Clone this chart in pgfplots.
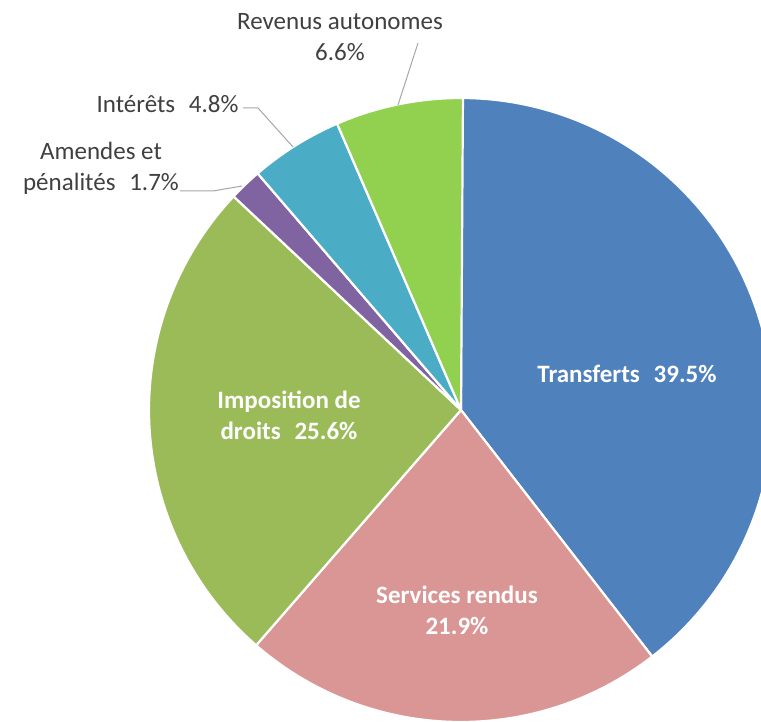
\documentclass[border=0pt]{standalone}
\usepackage{pgfplots}
\pgfplotsset{compat=1.18}
\usepackage{fontspec}
\setmainfont{Carlito}
\definecolor{cTr}{HTML}{4F81BD}
\definecolor{cSe}{HTML}{D99694}
\definecolor{cIm}{HTML}{9BBB59}
\definecolor{cAm}{HTML}{8064A2}
\definecolor{cIn}{HTML}{4BACC6}
\definecolor{cRe}{HTML}{92D050}
\definecolor{txt}{HTML}{404040}
\definecolor{lead}{HTML}{A6A6A6}
% shares in percent
\def\vTr{39.5}\def\vSe{21.9}\def\vIm{25.6}\def\vAm{1.7}\def\vIn{4.8}\def\vRe{6.6}
\pgfmathsetmacro\aA{90}
\pgfmathsetmacro\aB{\aA-3.6*\vTr}
\pgfmathsetmacro\aC{\aB-3.6*\vSe}
\pgfmathsetmacro\aD{\aC-3.6*\vIm}
\pgfmathsetmacro\aE{\aD-3.6*\vAm}
\pgfmathsetmacro\aF{\aE-3.6*\vIn}
\pgfmathsetmacro\aG{\aF-3.6*\vRe}
\newcommand{\gap}{\hspace{0.55em}}
\begin{document}
\begin{tikzpicture}
\begin{axis}[
  width=761pt, height=721pt, scale only axis,
  xmin=0, xmax=761, ymin=0, ymax=721,
  hide axis, clip=true,
  every axis plot/.append style={draw=white, line width=2.2pt, line join=round},
]
\newcommand{\slice}[3]{%
  \addplot[fill=#1, domain=#2:#3, samples=120, variable=\t]
    ({461+312*cos(t)},{311+312*sin(t)}) -- (axis cs:461,311) -- cycle;}
\slice{cTr}{\aB}{\aA}
\slice{cSe}{\aC}{\aB}
\slice{cIm}{\aD}{\aC}
\slice{cAm}{\aE}{\aD}
\slice{cIn}{\aF}{\aE}
\slice{cRe}{\aG}{\aF}
% leader lines
\draw[lead, line width=1pt] (axis cs:418,678) -- (axis cs:398,616);
\draw[lead, line width=1pt] (axis cs:243,613) -- (axis cs:258,613) -- (axis cs:293,574);
\draw[lead, line width=1pt] (axis cs:180,530) -- (axis cs:213,530) -- (axis cs:242,535);
% inside labels
\node[white, font=\fontsize{25}{31}\selectfont\bfseries, align=center] at (axis cs:627,347) {Transferts\gap 39.5\%};
\node[white, font=\fontsize{25}{31}\selectfont\bfseries, align=center] at (axis cs:289,306) {Imposition de\\droits\gap 25.6\%};
\node[white, font=\fontsize{25}{31}\selectfont\bfseries, align=center] at (axis cs:457,111) {Services rendus\\21.9\%};
% outside labels
\node[txt, font=\fontsize{25}{31}\selectfont, align=center] at (axis cs:340,684) {Revenus autonomes\\6.6\%};
\node[txt, font=\fontsize{25}{31}\selectfont, anchor=east] at (axis cs:242,617) {Intérêts\gap 4.8\%};
\node[txt, font=\fontsize{25}{31}\selectfont, align=center] at (axis cs:101,553) {Amendes et\\pénalités\gap 1.7\%};
\end{axis}
\pgfresetboundingbox
\path (0,0) rectangle (761pt,721pt);
\end{tikzpicture}
\end{document}
